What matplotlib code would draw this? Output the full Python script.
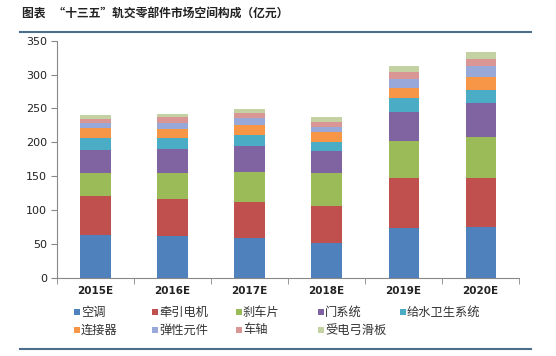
import matplotlib
matplotlib.use("Agg")
import matplotlib.pyplot as plt
import numpy as np
from matplotlib.lines import Line2D
from matplotlib.patches import Rectangle

plt.rcParams['font.family'] = ['Noto Sans CJK SC', 'DejaVu Sans']

categories = ['2015E', '2016E', '2017E', '2018E', '2019E', '2020E']
series_names = ['空调', '牵引电机', '刹车片', '门系统', '给水卫生系统',
                '连接器', '弹性元件', '车轴', '受电弓滑板']
kongtiao = [63, 61.5, 59, 51, 73, 75]
qianyin = [58, 54.5, 53, 55.5, 74, 72.5]
shache = [33, 38.5, 44, 48, 55, 60.5]
menxitong = [35, 35.5, 39, 32.5, 42, 50.5]
geishui = [18, 16, 16, 14, 21, 18.5]
lianjieqi = [14, 14, 15, 14, 15, 19]
tanxing = [8, 9, 10, 8, 14, 17]
chezhou = [6, 8, 7.5, 7, 10, 10]
shoudiangong = [5, 5, 6, 8, 8.5, 10]
series_values = [kongtiao, qianyin, shache, menxitong, geishui,
                 lianjieqi, tanxing, chezhou, shoudiangong]
colors = ['#4F81BD', '#C0504D', '#9BBB59', '#8064A2', '#4BACC6',
          '#F79646', '#98A9D9', '#D99694', '#C4D2A3']
yticks = [0, 50, 100, 150, 200, 250, 300, 350]

W, H = 556, 356
fig = plt.figure(figsize=(W / 100, H / 100), dpi=100)
ax = fig.add_axes([0.1025, 0.22, 0.831, 0.6657])

x = np.arange(len(categories))
bottom = np.zeros(len(categories))
for name, vals, c in zip(series_names, series_values, colors):
    ax.bar(x, vals, width=0.39, bottom=bottom, color=c, label=name, zorder=2)
    bottom += np.array(vals)

ax.set_xlim(-0.5, len(categories) - 0.5)
ax.set_ylim(0, 350)
ax.set_yticks(yticks)
ax.set_yticklabels([str(t) for t in yticks], fontsize=8, color='#222222',
                   family=['DejaVu Sans'])
ax.set_xticks(x)
ax.set_xticklabels(categories, fontsize=7.5, color='#222222', fontweight='bold',
                   family=['DejaVu Sans'])
ax.set_xticks(np.arange(len(categories) + 1) - 0.5, minor=True)
ax.tick_params(axis='x', which='major', length=0, pad=6)
ax.tick_params(axis='x', which='minor', length=4, color='#888888', direction='out')
ax.tick_params(axis='y', length=4, color='#888888', direction='out', pad=3)
for s in ['top', 'right']:
    ax.spines[s].set_visible(False)
for s in ['left', 'bottom']:
    ax.spines[s].set_color('#888888')
    ax.spines[s].set_linewidth(0.8)

# legend, laid out in two rows of fixed-width columns
col_x = [74, 152, 236, 318, 400]
row_y = [312, 330]
for i, (name, c) in enumerate(zip(series_names, colors)):
    r, k = divmod(i, 5)
    px, py = col_x[k], row_y[r]
    fig.add_artist(Rectangle((px / W, (H - py - 3) / H), 6 / W, 6 / H,
                             facecolor=c, edgecolor='none',
                             transform=fig.transFigure))
    fig.text((px + 7) / W, (H - py) / H, name, fontsize=8.8,
             color='#333333', va='center', ha='left')

fig.text(22 / W, (H - 14) / H, '图表   “十三五”轨交零部件市场空间构成（亿元）',
         fontsize=8.5, fontweight='bold', color='#222222', va='center')
fig.add_artist(Line2D([20 / W, 531 / W], [(H - 32) / H] * 2, color='#4A6E8C',
                      linewidth=1.5, transform=fig.transFigure))
fig.add_artist(Line2D([20 / W, 531 / W], [(H - 349) / H] * 2, color='#4A6E8C',
                      linewidth=1.5, transform=fig.transFigure))

fig.savefig('out.png', dpi=100)
